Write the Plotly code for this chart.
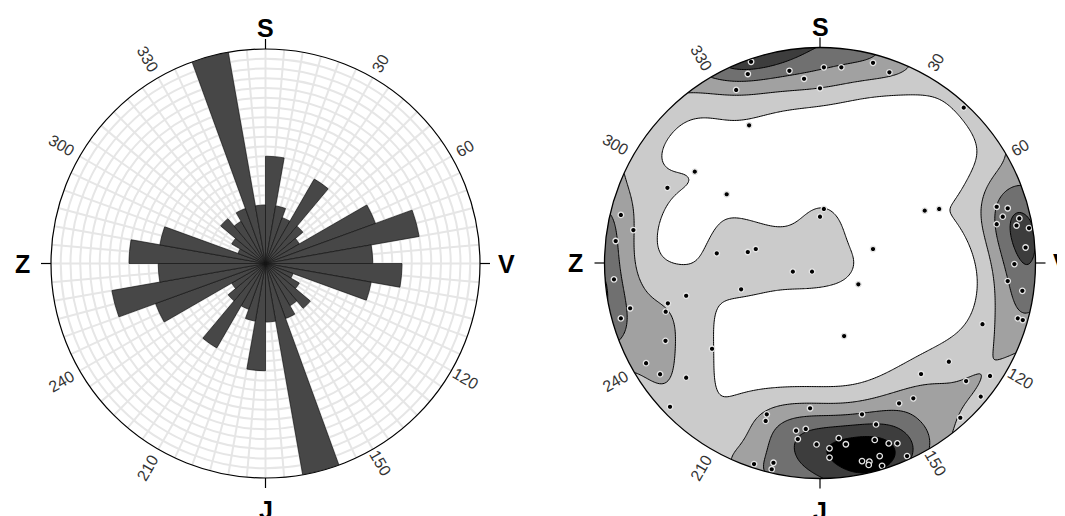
import numpy as np
import plotly.graph_objects as go

# ---------------- data ----------------
# Rose diagram: counts per 10-degree bin (0-180), drawn bidirectionally
rose_bin_start = list(range(0, 180, 10))
rose_counts = [11, 6, 5, 10, 5, 4, 12, 16, 11, 14, 11, 3, 4, 6, 5, 6, 22, 6]

# Stereonet poles (equal-area projection, unit circle coordinates)
pole_x = [-0.320, -0.335, -0.142, -0.074, -0.389, -0.329, -0.581, -0.708, -0.433, -0.924,
          -0.866, -0.948, -0.479, -0.335, -0.298, 0.018, 0.099, 0.246, 0.322, 0.000,
          0.667, 0.018, 0.000, 0.486, 0.553, 0.246, 0.820, 0.871, 0.848, 0.820,
          0.925, 0.912, 0.970, 0.954, 0.902, 0.178, 0.871, 0.939, 0.918, 0.941,
          0.754, 0.598, 0.469, 0.678, 0.789, 0.746, 0.433, 0.367, 0.195, 0.651,
          0.260, 0.087, 0.120, 0.254, 0.319, 0.359, -0.016, 0.044, 0.044, 0.195,
          0.229, 0.226, 0.277, 0.288, 0.404, 0.112, -0.037, -0.126, -0.956, -0.881,
          -0.924, -0.621, -0.706, -0.716, -0.717, -0.807, -0.742, -0.621, -0.501, -0.366,
          -0.696, -0.247, -0.252, -0.046, -0.111, -0.066, -0.103, -0.306, -0.216, -0.224]
pole_y = [0.934, 0.877, 0.892, 0.855, 0.803, 0.639, 0.424, 0.349, 0.319, 0.223,
          0.153, 0.102, 0.045, 0.051, 0.065, 0.908, 0.908, 0.929, 0.885, 0.811,
          0.721, 0.251, 0.215, 0.243, 0.251, 0.065, 0.261, 0.254, 0.215, 0.180,
          0.207, 0.174, 0.162, 0.072, -0.005, -0.099, -0.084, -0.129, -0.257, -0.265,
          -0.284, -0.458, -0.515, -0.548, -0.524, -0.620, -0.628, -0.651, -0.702, -0.718,
          -0.749, -0.813, -0.841, -0.821, -0.837, -0.837, -0.842, -0.860, -0.903, -0.919,
          -0.922, -0.937, -0.896, -0.941, -0.896, -0.339, -0.040, -0.040, -0.076, -0.210,
          -0.257, -0.152, -0.187, -0.226, -0.361, -0.465, -0.516, -0.532, -0.398, -0.122,
          -0.667, -0.702, -0.733, -0.674, -0.778, -0.770, -0.817, -0.933, -0.927, -0.957]

angle_labels = [30, 60, 120, 150, 210, 240, 300, 330]
cardinal_angles = [0, 90, 180, 270]
cardinal_names = ["S", "V", "J", "Z"]

# ---------------- geometry (screen pixels; page body has an 8px margin) ----------------
OFF = 8
W, H = 1065 - OFF, 516 - OFF
L_CX, L_CY, L_R = 265.5, 263.5, 214.5
R_CX, R_CY, R_R = 820.0, 263.0, 215.5
PAD = 1.03
FONT = "Liberation Sans, Arial, sans-serif"


def px(x, y):
    return (x - OFF) / W, 1 - (y - OFF) / H


fig = go.Figure()

# ---------------- rose diagram ----------------
theta = [b + 5 for b in rose_bin_start] + [b + 185 for b in rose_bin_start]
rvals = rose_counts + rose_counts
fig.add_trace(go.Barpolar(
    r=rvals, theta=theta, width=[10] * len(theta),
    marker=dict(color="#474747", line=dict(color="#151515", width=0.7)),
    subplot="polar", hoverinfo="skip", showlegend=False))

# ---------------- stereonet density (axial exponential kernel) ----------------
def to_vec(x, y):
    x = np.asarray(x, float)
    y = np.asarray(y, float)
    rho = np.clip(np.hypot(x, y), 0, 1)
    th = 2 * np.arcsin(rho / np.sqrt(2))
    az = np.arctan2(x, y)
    return np.stack([np.sin(th) * np.sin(az), np.sin(th) * np.cos(az), -np.cos(th)], axis=-1)


P = to_vec(pole_x, pole_y)
g = np.linspace(-PAD, PAD, 261)
GX, GY = np.meshgrid(g, g)
G = to_vec(GX, GY)
K = 27.0
dens = np.exp(K * (np.abs(G @ P.T) - 1)).sum(axis=-1)
dens = dens / (len(pole_x) * (1 - np.exp(-K)) / K)
a = dens.max() / 5.7

band_colors = ["#ffffff", "#cbcbcb", "#a1a1a1", "#707070", "#3d3d3d", "#000000"]
# plotly maps the 6 fill bands to colorscale positions 0, .2, .4, .6, .8, 1
cs = []
for j, c in enumerate(band_colors):
    lo = 0 if j == 0 else (j - 0.5) / 5
    hi = 1 if j == 5 else (j + 0.5) / 5
    cs += [[lo, c], [hi, c]]

fig.add_trace(go.Contour(
    x=g, y=g, z=dens,
    contours=dict(start=a, end=5 * a, size=a, coloring="fill", showlines=True),
    line=dict(color="black", width=1, smoothing=1.0),
    colorscale=cs, showscale=False, hoverinfo="skip",
    xaxis="x", yaxis="y"))

fig.add_trace(go.Scatter(
    x=pole_x, y=pole_y, mode="markers",
    marker=dict(size=5.5, color="black", line=dict(color="#e6e6e6", width=1.3)),
    hoverinfo="skip", showlegend=False, xaxis="x", yaxis="y"))

# white mask outside the circle
t = np.linspace(0, 2 * np.pi, 241)
circ = "M " + " L ".join(f"{np.cos(v):.5f},{np.sin(v):.5f}" for v in t) + " Z"
rect = "M -1.5,-1.5 L 1.5,-1.5 L 1.5,1.5 L -1.5,1.5 Z "
shapes = [dict(type="path", path=rect + circ, xref="x", yref="y", fillcolor="white",
               line=dict(width=0), layer="above", fillrule="evenodd"),
          dict(type="circle", xref="x", yref="y", x0=-1, y0=-1, x1=1, y1=1,
               line=dict(color="black", width=1.3), layer="above")]

annotations = []
for cx, cy, R in [(L_CX, L_CY, L_R), (R_CX, R_CY, R_R)]:
    for ang, name in zip(cardinal_angles, cardinal_names):
        s, c = np.sin(np.radians(ang)), np.cos(np.radians(ang))
        x0, y0 = px(cx + R * s, cy - R * c)
        x1, y1 = px(cx + (R + 10) * s, cy - (R + 10) * c)
        shapes.append(dict(type="line", xref="paper", yref="paper", x0=x0, y0=y0, x1=x1, y1=y1,
                           line=dict(color="black", width=1.2)))
        off = {0: 21, 90: 26, 180: 32, 270: 29}[ang]
        lx, ly = px(cx + (R + off) * s, cy - (R + off) * c)
        annotations.append(dict(x=lx, y=ly, xref="paper", yref="paper", text=f"<b>{name}</b>",
                                showarrow=False, xanchor="center", yanchor="middle",
                                font=dict(family=FONT, size=25, color="black")))
    for ang in angle_labels:
        s, c = np.sin(np.radians(ang)), np.cos(np.radians(ang))
        off = 16 if ang < 180 else 21
        lx, ly = px(cx + (R + off) * s, cy - (R + off) * c)
        ta = ang - 90 if ang < 180 else ang - 270
        annotations.append(dict(x=lx, y=ly, xref="paper", yref="paper", text=str(ang),
                                showarrow=False, xanchor="center", yanchor="middle", textangle=ta,
                                font=dict(family=FONT, size=16, color="#333333")))

half = R_R * PAD
lx0, ly0 = px(L_CX - L_R, L_CY + L_R)
lx1, ly1 = px(L_CX + L_R, L_CY - L_R)
rx0, ry0 = px(R_CX - half, R_CY + half)
rx1, ry1 = px(R_CX + half, R_CY - half)
fig.update_layout(
    width=W, height=H, margin=dict(l=0, r=0, t=0, b=0),
    paper_bgcolor="white", plot_bgcolor="white", showlegend=False,
    polar=dict(
        domain=dict(x=[lx0, lx1], y=[ly0, ly1]),
        bgcolor="white",
        angularaxis=dict(rotation=90, direction="clockwise", tickmode="array",
                         tickvals=list(range(0, 360, 5)), showticklabels=False, ticks="",
                         showline=True, linecolor="black", linewidth=1.2,
                         gridcolor="#e6e6e6", gridwidth=1.5, layer="below traces"),
        radialaxis=dict(range=[0, 22], tickmode="linear", tick0=0, dtick=1,
                        showticklabels=False, ticks="", showline=False,
                        gridcolor="#e6e6e6", gridwidth=1.5, layer="below traces"),
    ),
    xaxis=dict(domain=[rx0, rx1], range=[-PAD, PAD],
               visible=False, showgrid=False, zeroline=False),
    yaxis=dict(domain=[ry0, min(ry1, 1)], range=[-PAD, PAD],
               visible=False, showgrid=False, zeroline=False),
    shapes=shapes, annotations=annotations,
)

fig.write_html("out.html")
